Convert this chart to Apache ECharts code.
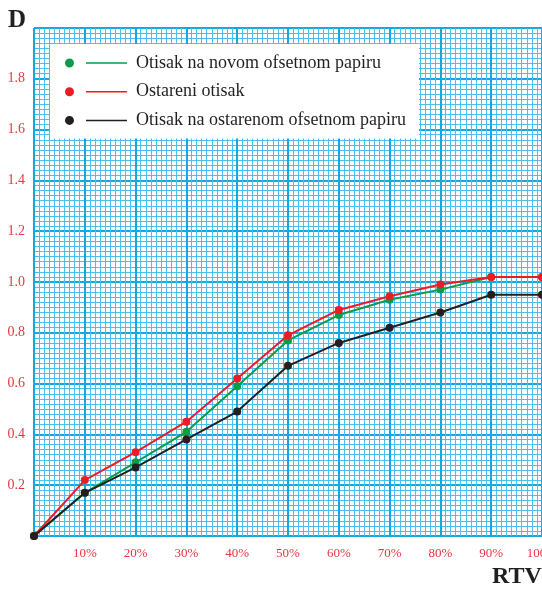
<!DOCTYPE html>
<html>
<head>
<meta charset="utf-8">
<script src="https://cdn.jsdelivr.net/npm/echarts@6/dist/echarts.min.js"></script>
<style>html,body{margin:0;padding:0;background:#fff}#c{width:542px;height:592px}</style>
</head>
<body>
<div id="c"></div>
<script>
const rtv = [0, 10, 20, 30, 40, 50, 60, 70, 80, 90, 100];
const novi = [0, 0.17, 0.29, 0.41, 0.59, 0.77, 0.87, 0.93, 0.97, 1.02, 1.02];
const ostareni = [0, 0.22, 0.33, 0.45, 0.62, 0.79, 0.89, 0.944, 0.99, 1.02, 1.02];
const ostareniPapir = [0, 0.17, 0.27, 0.38, 0.49, 0.67, 0.76, 0.82, 0.88, 0.95, 0.95];
const seriesNames = ['Otisak na novom ofsetnom papiru', 'Ostareni otisak', 'Otisak na ostarenom ofsetnom papiru'];
const seriesColors = ['#0a9b4b', '#ec1c27', '#231f20'];
const xTickLabels = ['', '10%', '20%', '30%', '40%', '50%', '60%', '70%', '80%', '90%', '100%'];
const yTickLabels = ['', '0.2', '0.4', '0.6', '0.8', '1.0', '1.2', '1.4', '1.6', '1.8', ''];

const serif = 'Liberation Serif, Times New Roman, serif';
const labelRed = '#e8363f';
const minorC = '#4cbfee';
const majorC = '#14a8e3';

const pairs = arr => rtv.map((x, i) => [x, arr[i]]);
const allData = [novi, ostareni, ostareniPapir];

const chart = echarts.init(document.getElementById('c'), null, {renderer: 'canvas'});
chart.setOption({
  animation: false,
  backgroundColor: '#ffffff',
  grid: {left: 34, right: 0, top: 28, bottom: 56, containLabel: false, outerBoundsMode: 'none'},
  xAxis: {
    type: 'value', min: 0, max: 100, interval: 10,
    axisLine: {show: false}, axisTick: {show: false},
    axisLabel: {
      color: labelRed, fontFamily: serif, fontSize: 13, margin: 11,
      formatter: v => xTickLabels[Math.round(v / 10)]
    },
    splitLine: {show: true, lineStyle: {color: majorC, width: 2}},
    minorTick: {show: false, splitNumber: 10},
    minorSplitLine: {show: true, lineStyle: {color: minorC, width: 1}}
  },
  yAxis: {
    type: 'value', min: 0, max: 2, interval: 0.2,
    axisLine: {show: false}, axisTick: {show: false},
    axisLabel: {
      color: labelRed, fontFamily: serif, fontSize: 14, margin: 9,
      formatter: v => yTickLabels[Math.round(v / 0.2)]
    },
    splitLine: {show: true, lineStyle: {color: majorC, width: 2}},
    minorTick: {show: false, splitNumber: 10},
    minorSplitLine: {show: true, lineStyle: {color: minorC, width: 1}}
  },
  legend: {
    show: true,
    orient: 'vertical',
    left: 50, top: 44,
    backgroundColor: '#ffffff',
    padding: [10, 13, 9, 15],
    itemGap: 10.7,
    itemWidth: 62, itemHeight: 9,
    icon: 'path://M0,4.5 A4.5,4.5 0 1,1 9,4.5 A4.5,4.5 0 1,1 0,4.5 Z M21,3.75 L62,3.75 L62,5.25 L21,5.25 Z',
    itemStyle: {borderWidth: 0},
    textStyle: {fontFamily: serif, fontSize: 18, color: '#231f20', lineHeight: 18, padding: [0, 0, 0, 4]},
    data: seriesNames
  },
  graphic: [
    {type: 'text', left: 8, top: 8, style: {text: 'D', font: 'bold 25px ' + serif, fill: '#231f20'}},
    {type: 'text', left: 492, top: 565, style: {text: 'RTV', font: 'bold 24px ' + serif, fill: '#231f20'}}
  ],
  series: seriesNames.map((name, i) => ({
    name: name,
    type: 'line',
    data: pairs(allData[i]),
    symbol: 'circle',
    symbolSize: 8,
    showSymbol: true,
    clip: false,
    lineStyle: {color: seriesColors[i], width: 2},
    itemStyle: {color: seriesColors[i], borderWidth: 0},
    z: 3 + i
  }))
});
</script>
</body>
</html>
